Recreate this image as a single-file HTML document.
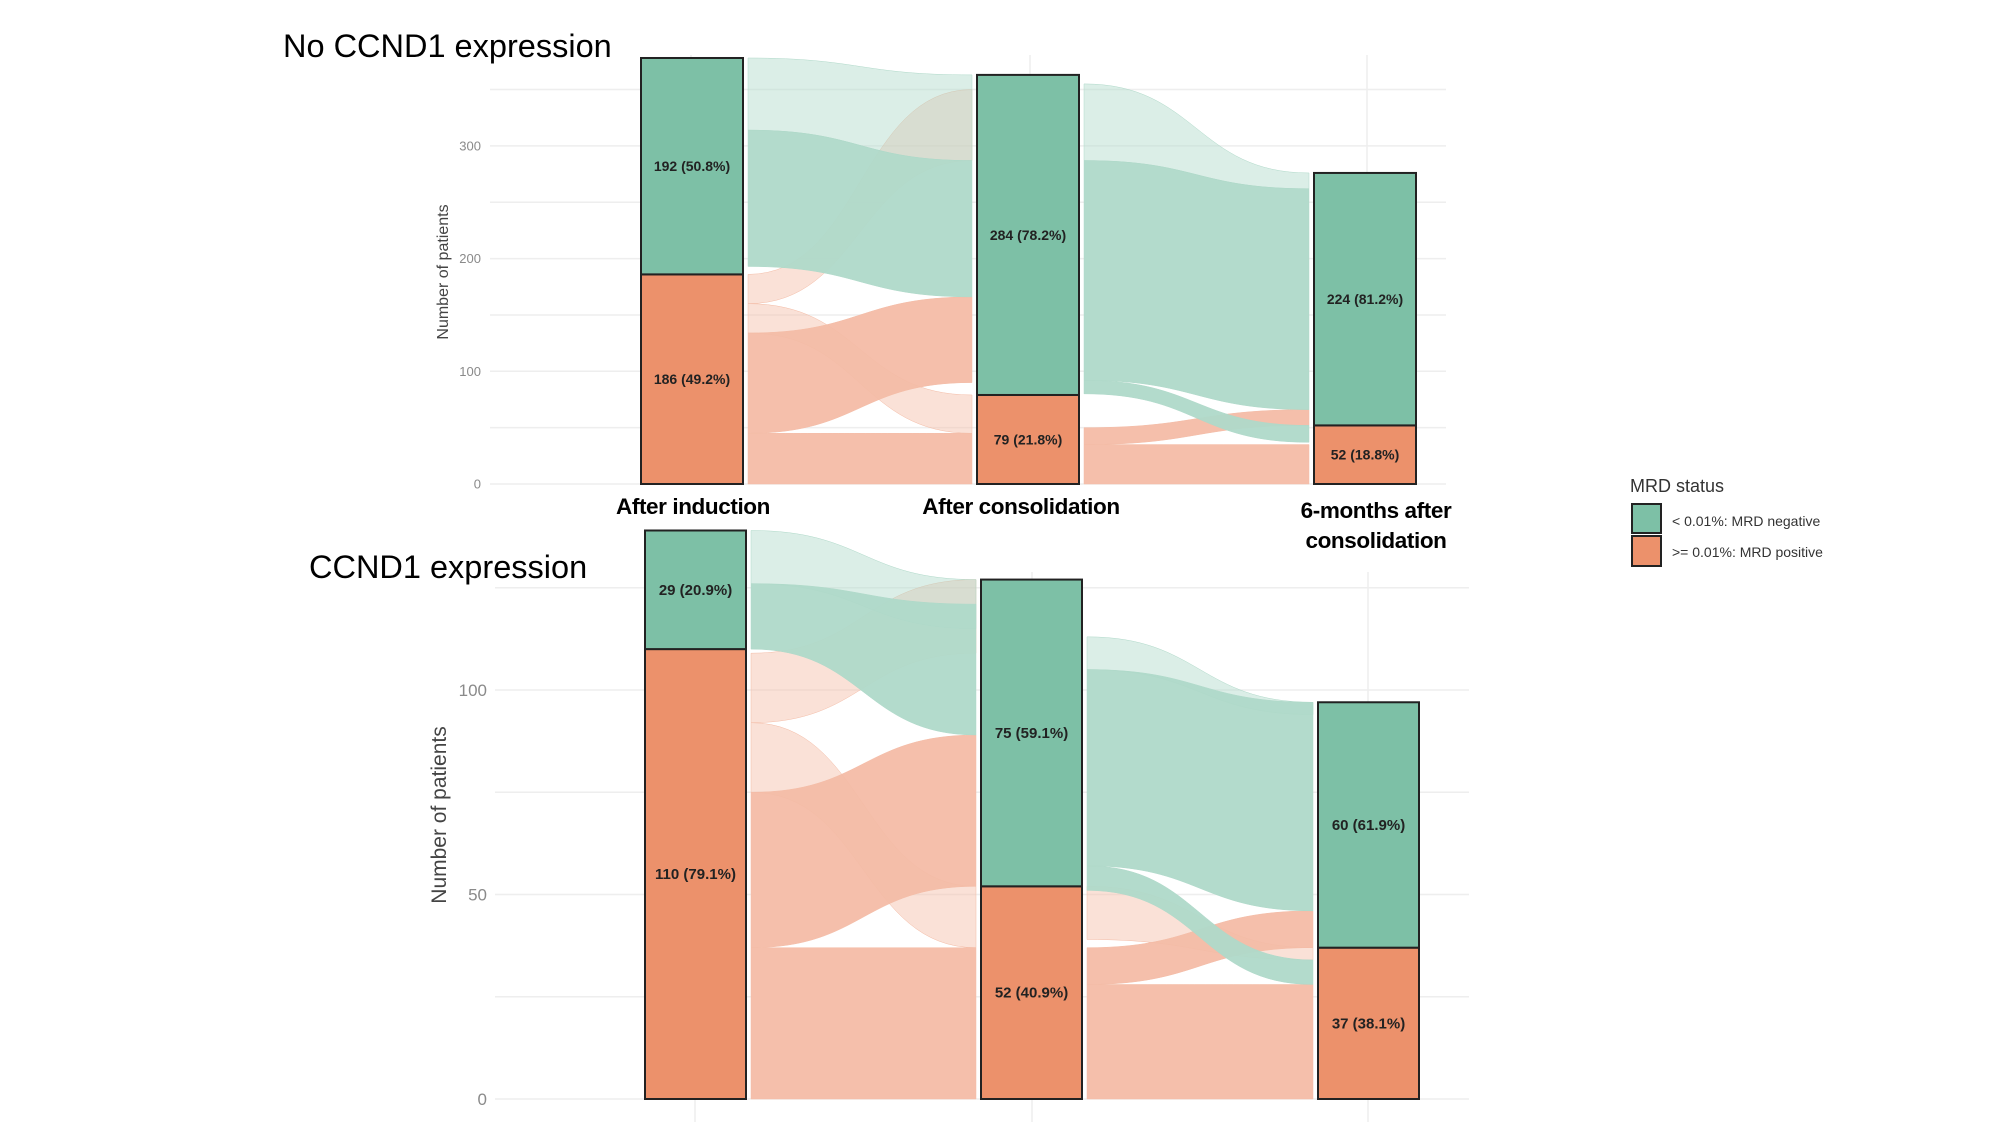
<!DOCTYPE html>
<html><head><meta charset="utf-8"><style>
html,body{margin:0;padding:0;background:#fff;}
svg{display:block;font-family:"Liberation Sans",sans-serif;}
</style></head><body>
<svg id="chart" width="2000" height="1125" viewBox="0 0 2000 1125" xmlns="http://www.w3.org/2000/svg">
<g id="root"></g>
</svg>
<script>
// ---------- data ----------
const timepoints = ["After induction", "After consolidation", "6-months after consolidation"];
const topNeg = [192, 284, 224];
const topPos = [186, 79, 52];
const topNegPct = ["50.8%", "78.2%", "81.2%"];
const topPosPct = ["49.2%", "21.8%", "18.8%"];
const botNeg = [29, 75, 60];
const botPos = [110, 52, 37];
const botNegPct = ["20.9%", "59.1%", "61.9%"];
const botPosPct = ["79.1%", "40.9%", "38.1%"];
const topTicks = [0, 100, 200, 300];
const botTicks = [0, 50, 100];
// flows: [step, srcLow, srcHigh, dstLow, dstHigh, status(0 neg,1 pos), sparse]
const topFlows = [
 [0, 0, 45, 0, 45, 1, 0],
 [0, 45, 134, 90, 166, 1, 0],
 [0, 134, 160, 45, 79, 1, 1],
 [0, 160, 186, 287, 350, 1, 1],
 [0, 193, 314, 166, 287, 0, 0],
 [0, 314, 378, 287, 363, 0, 1],
 [1, 0, 35, 0, 35, 1, 0],
 [1, 35, 50, 52, 66, 1, 0],
 [1, 80, 92, 37, 52, 0, 0],
 [1, 92, 287, 66, 262, 0, 0],
 [1, 287, 355, 262, 276, 0, 1]
];
const botFlows = [
 [0, 0, 37, 0, 37, 1, 0],
 [0, 37, 75, 52, 89, 1, 0],
 [0, 75, 92, 37, 52, 1, 1],
 [0, 92, 109, 109, 127, 1, 1],
 [0, 110, 126, 89, 121, 0, 0],
 [0, 126, 139, 115, 127, 0, 1],
 [1, 0, 28, 0, 28, 1, 0],
 [1, 28, 37, 37, 46, 1, 0],
 [1, 39, 52, 34, 37, 1, 1],
 [1, 51, 57, 28, 34, 0, 0],
 [1, 57, 105, 46, 97, 0, 0],
 [1, 105, 113, 94, 97, 0, 1]
];

const NS = "http://www.w3.org/2000/svg";
const root = document.getElementById("root");
function mk(tag, attrs, parent) {
  const e = document.createElementNS(NS, tag);
  for (const k in attrs) e.setAttribute(k, attrs[k]);
  (parent || root).appendChild(e);
  return e;
}
const GREEN = "#7dc0a6", ORANGE = "#ec916b";
const FLOWG = "#afd9c9", FLOWO = "#f4bca6";

function panel(cfg) {
  const g = mk("g", {});
  
  
  const y = v => cfg.y0 - v * cfg.k;
  for (let v = 0; v <= cfg.gridMax; v += cfg.minor) {
    const l = mk("line", {x1: cfg.gx0, x2: cfg.gx1, y1: y(v), y2: y(v), stroke: "#eeeeee", "stroke-width": 1.5}, g);
    
    
  }
  cfg.cx.forEach(c => {
    const l = mk("line", {x1: c, x2: c, y1: cfg.vTop, y2: cfg.vBot, stroke: "#eeeeee", "stroke-width": 1.5}, g);
    
    
  });
  cfg.ticks.forEach(v => {
    const t = mk("text", {x: cfg.tickX, y: y(v) + cfg.tickFs * 0.35, "text-anchor": "end", "font-size": cfg.tickFs, fill: "#8a8a8a"}, g);
    t.textContent = v;
    
    
  });
  const at = mk("text", {x: 0, y: 0, "text-anchor": "middle", "font-size": cfg.titleFs, fill: "#444",
    transform: `translate(${cfg.titleX},${cfg.titleY}) rotate(-90)`}, g);
  at.textContent = "Number of patients";
  
  
  cfg.flows.forEach(f => {
    const [s, a0, a1, b0, b1, st, sparse] = f;
    const x0 = cfg.bx[s] + cfg.bw + 5, x1 = cfg.bx[s + 1] - 5, xm = (x0 + x1) / 2;
    const d = `M${x0},${y(a1)} C${xm},${y(a1)} ${xm},${y(b1)} ${x1},${y(b1)} L${x1},${y(b0)} C${xm},${y(b0)} ${xm},${y(a0)} ${x0},${y(a0)} Z`;
    const p = mk("path", {d: d, fill: st ? FLOWO : FLOWG, "fill-opacity": sparse ? 0.45 : 0.95,
      stroke: st ? FLOWO : FLOWG, "stroke-width": 0.5}, g);
    
    
  });
  cfg.neg.forEach((n, i) => {
    const p = cfg.pos[i];
    const rp = mk("rect", {x: cfg.bx[i], y: y(p), width: cfg.bw, height: p * cfg.k, fill: ORANGE, stroke: "#222", "stroke-width": 2}, g);
    
    
    const rn = mk("rect", {x: cfg.bx[i], y: y(p + n), width: cfg.bw, height: n * cfg.k, fill: GREEN, stroke: "#222", "stroke-width": 2}, g);
    
    
    const cx = cfg.bx[i] + cfg.bw / 2;
    const t1 = mk("text", {x: cx, y: y(p + n / 2) + 5, "text-anchor": "middle", "font-size": cfg.lblFs, "font-weight": "bold", fill: "#222"}, g);
    t1.textContent = `${n} (${cfg.negPct[i]})`;
    
    
    const t2 = mk("text", {x: cx, y: y(p / 2) + 5, "text-anchor": "middle", "font-size": cfg.lblFs, "font-weight": "bold", fill: "#222"}, g);
    t2.textContent = `${p} (${cfg.posPct[i]})`;
    
    
  });
}

panel({name: "panel-no-ccnd1", y0: 484, k: 1.127, gridMax: 350, minor: 50, gx0: 490, gx1: 1446,
  vTop: 55, vBot: 484, cx: [691, 1030, 1367], bx: [641, 977, 1314], bw: 102,
  ticks: topTicks, tickX: 481, tickFs: 13, titleX: 448, titleY: 272, titleFs: 16,
  flows: topFlows, neg: topNeg, pos: topPos, negPct: topNegPct, posPct: topPosPct, lblFs: 14});
panel({name: "panel-ccnd1", y0: 1099, k: 4.09, gridMax: 125, minor: 25, gx0: 495, gx1: 1469,
  vTop: 572, vBot: 1122, cx: [695, 1032, 1368], bx: [645, 981, 1318], bw: 101,
  ticks: botTicks, tickX: 487, tickFs: 17, titleX: 446, titleY: 815, titleFs: 21,
  flows: botFlows, neg: botNeg, pos: botPos, negPct: botNegPct, posPct: botPosPct, lblFs: 15});

function txt(x, yv, s, fs, w, anchor, name, fill) {
  const t = mk("text", {x: x, y: yv, "font-size": fs, "font-weight": w, "text-anchor": anchor, fill: fill || "#000"});
  t.textContent = s;
  
  
  return t;
}
txt(283, 57, "No CCND1 expression", 32.5, "normal", "start", "panel-title-no-ccnd1");
txt(309, 578, "CCND1 expression", 32.5, "normal", "start", "panel-title-ccnd1");
const xl = [[693, 514, timepoints[0]], [1021, 514, timepoints[1]], [1376, 518, "6-months after"], [1376, 548, "consolidation"]];
xl.forEach(a => {
  const t = txt(a[0], a[1], a[2], 22.5, "bold", "middle", "x-axis-label");
  t.setAttribute("letter-spacing", "-0.4");
});
const lg = mk("g", {});


const lt = mk("text", {x: 1630, y: 492, "font-size": 18, fill: "#333"}, lg);
lt.textContent = "MRD status";


const k1 = mk("rect", {x: 1632, y: 504, width: 29, height: 29, fill: GREEN, stroke: "#222", "stroke-width": 2}, lg);


const k2 = mk("rect", {x: 1632, y: 536, width: 29, height: 30, fill: ORANGE, stroke: "#222", "stroke-width": 2}, lg);


const l1 = mk("text", {x: 1672, y: 526, "font-size": 14, fill: "#333"}, lg);
l1.textContent = "< 0.01%: MRD negative";


const l2 = mk("text", {x: 1672, y: 557, "font-size": 14, fill: "#333"}, lg);
l2.textContent = ">= 0.01%: MRD positive";


</script>
</body></html>
